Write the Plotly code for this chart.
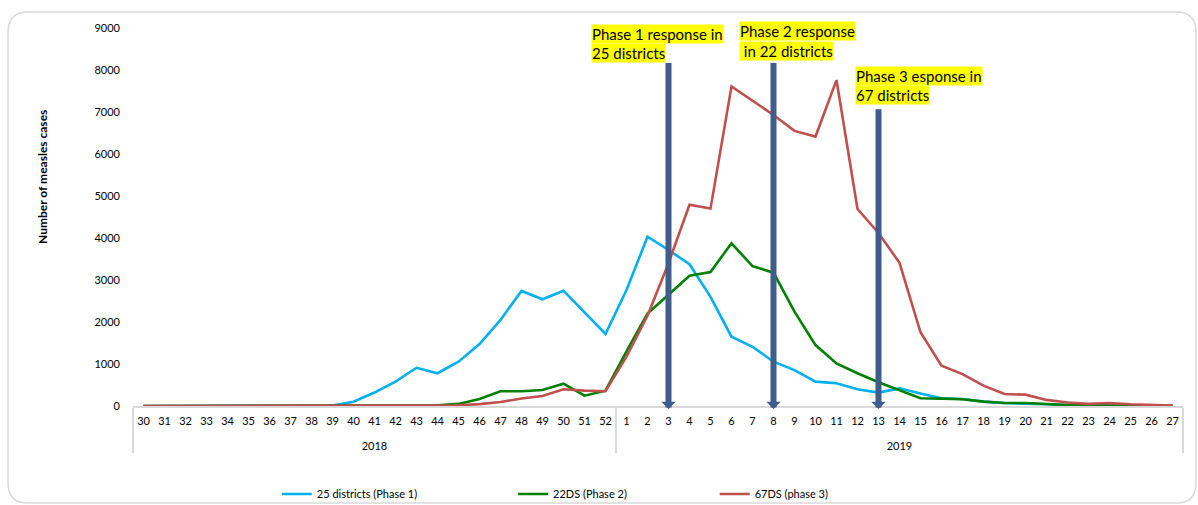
import plotly.graph_objects as go

weeks_2018 = [str(w) for w in range(30, 53)]
weeks_2019 = [str(w) for w in range(1, 28)]
weeks = weeks_2018 + weeks_2019
year_labels = ["2018", "2019"]
years = [year_labels[0]] * len(weeks_2018) + [year_labels[1]] * len(weeks_2019)

phase1_25_districts = [0, 0, 0, 0, 0, 0, 0, 0, 0, 10, 100, 320, 580, 910, 780, 1055, 1475, 2050, 2740, 2540, 2745, 2230, 1715,
                       2760, 4030, 3715, 3375, 2600, 1650, 1410, 1055, 855, 580, 540, 400, 320, 420, 300, 185, 165, 105, 70, 60, 40, 20, 10, 10, 5, 5, 0]
phase2_22ds = [0, 0, 0, 0, 0, 0, 0, 0, 0, 0, 0, 0, 0, 0, 15, 50, 165, 350, 350, 380, 530, 245, 365,
               1300, 2200, 2650, 3100, 3190, 3875, 3330, 3175, 2245, 1450, 1015, 780, 565, 380, 185, 175, 160, 105, 70, 70, 40, 25, 15, 10, 5, 5, 5]
phase3_67ds = [0, 0, 0, 0, 0, 0, 0, 0, 0, 0, 0, 0, 0, 0, 0, 15, 45, 95, 180, 240, 400, 365, 350,
               1175, 2150, 3400, 4790, 4700, 7610, 7280, 6930, 6550, 6415, 7760, 4690, 4120, 3410, 1755, 960, 760, 485, 285, 270, 145, 85, 50, 70, 40, 20, 10]

series_names = ["25 districts (Phase 1)", "22DS (Phase 2)", "67DS (phase 3)"]
series_values = [phase1_25_districts, phase2_22ds, phase3_67ds]
series_colors = ["#00B0F0", "#008000", "#C0504D"]

response_year = ["2019", "2019", "2019"]
response_week = ["3", "8", "13"]
response_top = [8200, 8200, 7100]
response_label_lines = [["Phase 1 response in", "25 districts"],
                        ["Phase 2 response", "\u00a0in 22 districts"],
                        ["Phase 3 esponse in", "67 districts"]]

FONT = "Lato"
fig = go.Figure()
legend_ids = ["legend", "legend2", "legend3"]
# outer (year) level is pushed one line lower with a leading line break
years_display = ["<br>" + y for y in years]
for name, vals, col, lg in zip(series_names, series_values, series_colors, legend_ids):
    fig.add_trace(go.Scatter(x=[years_display, weeks], y=vals, mode="lines", name=name,
                             line=dict(color=col, width=2.6), legend=lg))

n = len(weeks)
pairs = list(zip(years, weeks))
label_pos = [(0.4362, 0.9854, 0.9339), (0.577, 0.9921, 0.9392), (0.6876, 0.873, 0.8228)]
for yr, wk, top, lines, (lx, ly1, ly2) in zip(response_year, response_week, response_top, response_label_lines, label_pos):
    idx = pairs.index((yr, wk))
    xp = (idx + 0.5) / n
    fig.add_annotation(x=xp, xref="paper", y=-70, yref="y", ax=0, axref="pixel", ay=top, ayref="y",
                       text="", showarrow=True, arrowhead=1, arrowsize=0.4, arrowwidth=6,
                       arrowcolor="#3E5C8C", standoff=0)
    for txt, yy in zip(lines, (ly1, ly2)):
        fig.add_annotation(x=lx, y=yy, xref="paper", yref="paper", xanchor="left", yanchor="middle",
                           text=txt, showarrow=False, bgcolor="#FFFF00", borderpad=0,
                           font=dict(family=FONT, size=15, color="#000000"))

fig.add_annotation(x=-0.0857, y=0.606, xref="paper", yref="paper", textangle=-90,
                   xanchor="center", yanchor="middle",
                   text="<b>Number of measles cases</b>", showarrow=False,
                   font=dict(family=FONT, size=12, color="#000000"))

# rounded border
x0, x1, y0, y1 = -0.119, 1.0124, -0.2566, 1.0423
rx, ry = 20 / 1050, 20 / 378
path = (f"M{x0+rx},{y1} L{x1-rx},{y1} Q{x1},{y1} {x1},{y1-ry} L{x1},{y0+ry} Q{x1},{y0} {x1-rx},{y0} "
        f"L{x0+rx},{y0} Q{x0},{y0} {x0},{y0+ry} L{x0},{y1-ry} Q{x0},{y1} {x0+rx},{y1} Z")
fig.add_shape(type="path", path=path, xref="paper", yref="paper", line=dict(color="#D9D9D9", width=1.5), layer="below")

leg_common = dict(orientation="h", yanchor="middle", y=-0.233, xanchor="left",
                  font=dict(family=FONT, size=11, color="#000000"), bgcolor="rgba(0,0,0,0)")
fig.update_layout(
    width=1198, height=505,
    margin=dict(l=133, r=15, t=28, b=99, autoexpand=False),
    paper_bgcolor="white", plot_bgcolor="white",
    font=dict(family=FONT, size=11, color="#000000"),
    showlegend=True,
    legend=dict(x=0.137, **leg_common),
    legend2=dict(x=0.362, **leg_common),
    legend3=dict(x=0.554, **leg_common),
    xaxis=dict(type="multicategory", range=[-0.5, n - 0.5], showline=True, linecolor="#D9D9D9", linewidth=1.5,
               showgrid=False, zeroline=False, ticks="", showdividers=True, tickangle=0,
               dividercolor="#D9D9D9", dividerwidth=1.5, ticklabelstandoff=4,
               tickfont=dict(family=FONT, size=11, color="#000000")),
    yaxis=dict(range=[0, 9000], dtick=1000, showgrid=False, zeroline=False, showline=False,
               ticks="", ticklabelstandoff=12,
               tickfont=dict(family=FONT, size=11, color="#000000")),
)
fig.write_html("out.html", config={"displayModeBar": False},
               post_script="document.body.style.margin='0';document.body.style.overflow='hidden';")
